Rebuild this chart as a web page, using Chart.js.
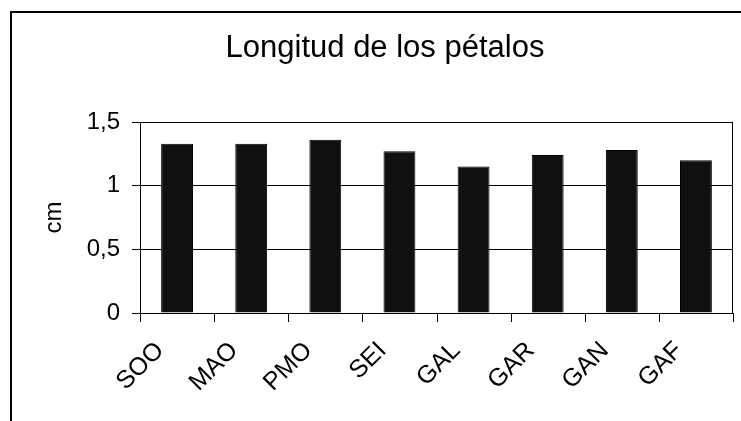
<!DOCTYPE html>
<html>
<head>
<meta charset="utf-8">
<script src="https://cdn.jsdelivr.net/npm/chart.js@4.4.1/dist/chart.umd.min.js"></script>
<style>
  html, body { margin: 0; padding: 0; background: #fff; }
  #wrap { width: 741px; height: 421px; }
</style>
</head>
<body>
<div id="wrap"><canvas id="chart" width="741" height="421"></canvas></div>
<script>
const chartTitle = "Longitud de los pétalos";
const yAxisTitle = "cm";
const categories = ["SOO", "MAO", "PMO", "SEI", "GAL", "GAR", "GAN", "GAF"];
const petalLength = [1.33, 1.33, 1.36, 1.27, 1.15, 1.24, 1.28, 1.2];
const yTickValues = [0, 0.5, 1, 1.5];
const yTickLabels = ["0", "0,5", "1", "1,5"];

const FONT = "'Liberation Sans', Arial, sans-serif";

// outer frame, plot outline, x tick marks and the title (placed like the original)
const decor = {
  id: "decor",
  beforeDraw(chart) {
    const { ctx } = chart;
    ctx.save();
    ctx.strokeStyle = "#000";
    ctx.lineWidth = 2;
    ctx.beginPath();
    ctx.moveTo(11, 421);
    ctx.lineTo(11, 12);
    ctx.lineTo(741, 12);
    ctx.stroke();
    ctx.restore();
  },
  afterDraw(chart) {
    const { ctx, chartArea: a } = chart;
    const x = chart.scales.x;
    ctx.save();
    ctx.strokeStyle = "#000";
    ctx.lineWidth = 1;
    ctx.beginPath();
    ctx.moveTo(Math.round(a.right) - 0.5, a.top);
    ctx.lineTo(Math.round(a.right) - 0.5, a.bottom);
    // category separators below the axis
    for (let i = 0; i <= categories.length; i += 1) {
      const px = Math.round(x.getPixelForValue(i - 0.5)) + 0.5;
      ctx.moveTo(px, a.bottom);
      ctx.lineTo(px, a.bottom + 9);
    }
    ctx.stroke();
    ctx.fillStyle = "#000";
    ctx.font = "31px " + FONT;
    ctx.textAlign = "center";
    ctx.textBaseline = "alphabetic";
    ctx.fillText(chartTitle, 385, 57);
    ctx.restore();
  }
};

new Chart(document.getElementById("chart"), {
  type: "bar",
  data: {
    labels: categories,
    datasets: [{
      data: petalLength,
      backgroundColor: "#101010",
      borderColor: "#000",
      borderWidth: 1,
      categoryPercentage: 1,
      barPercentage: 0.43
    }]
  },
  options: {
    responsive: false,
    animation: false,
    layout: { padding: { left: 10, top: 122, right: 8, bottom: 0 } },
    plugins: {
      legend: { display: false },
      tooltip: { enabled: false }
    },
    scales: {
      x: {
        afterFit(scale) { scale.height = 108; },
        grid: { display: false },
        border: { display: true, color: "#000", width: 1 },
        ticks: {
          color: "#000",
          font: { family: FONT, size: 25 },
          minRotation: 45,
          maxRotation: 45,
          padding: 15,
          labelOffset: -17
        }
      },
      y: {
        min: 0,
        max: 1.5,
        afterFit(scale) { scale.width = 130; },
        afterBuildTicks(scale) { scale.ticks = yTickValues.map((v) => ({ value: v })); },
        grid: { color: "#000", lineWidth: 1, tickLength: 8 },
        border: { display: true, color: "#000", width: 1 },
        ticks: {
          color: "#000",
          font: { family: FONT, size: 24 },
          padding: 12,
          callback: (v) => yTickLabels[yTickValues.indexOf(v)]
        },
        title: {
          display: true,
          text: yAxisTitle,
          color: "#000",
          font: { family: FONT, size: 24 },
          padding: { top: 30, bottom: 0 }
        }
      }
    }
  },
  plugins: [decor]
});
</script>
</body>
</html>
